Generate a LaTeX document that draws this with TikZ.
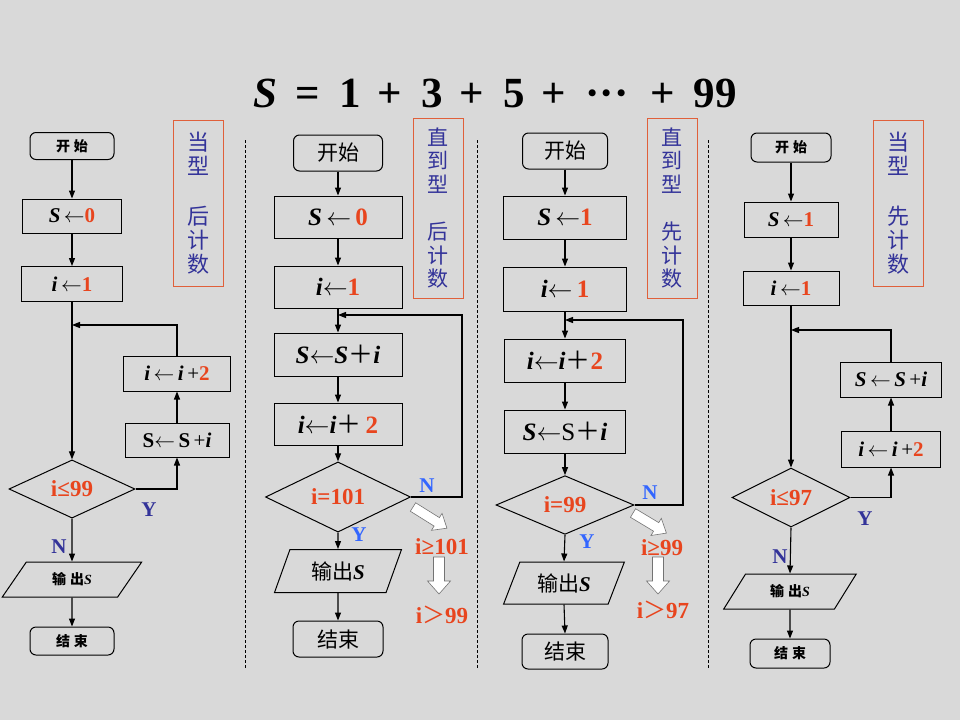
\documentclass[tikz,border=0pt]{standalone}
\usepackage{fontspec}
\setmainfont{Liberation Serif}
\newfontfamily\cjk{Noto Sans CJK SC}
\usetikzlibrary{arrows.meta, shapes.geometric}
\definecolor{flowbg}{HTML}{D9D9D9}
\definecolor{numred}{HTML}{E8451E}
\definecolor{tagblue}{HTML}{333399}
\definecolor{ynblue}{HTML}{3366FF}
\definecolor{tagframe}{HTML}{E0603A}
\newcommand\nr[1]{{\rmfamily\bfseries\color{numred}#1}}
\newcommand\bv[1]{{\rmfamily\bfseries\itshape #1}}
\newcommand\lar{$\leftarrow$}
\tikzset{
  box/.style={draw, line width=1pt, inner sep=0pt},
  term/.style={box, rounded corners=6pt},
  proc/.style={box},
  % parallelogram: bottom-left and bottom-right angles
  io/.style 2 args={box, trapezium, trapezium stretches=true,
                    trapezium left angle=#1, trapezium right angle=#2},
}

\begin{document}
\begin{tikzpicture}[
    x=1pt, y=-1pt,
    >={Triangle[length=8pt, width=6pt]},
    line width=1.1pt,
    cond/.style={box, diamond, text=numred, font=\bfseries\fontsize{23}{26}\selectfont},
    mathS/.style={font=\fontsize{21}{24}\selectfont},
    mathL/.style={font=\fontsize{25}{28}\selectfont},
    cjkS/.style={font=\cjk\bfseries\fontsize{14}{16}\selectfont},
    cjkL/.style={font=\cjk\fontsize{21}{24}\selectfont},
    tag/.style={draw=tagframe, line width=1pt, minimum width=50pt, inner sep=0pt,
                align=center, text=tagblue},
    yn/.style={font=\bfseries\fontsize{21}{24}\selectfont},
    cmp/.style={text=numred, font=\bfseries\fontsize{23}{26}\selectfont},
    hollow/.style={fill=white, draw=black!55, line width=0.6pt},
    sep/.style={line width=0.8pt, dash pattern=on 3pt off 2pt},
]
\useasboundingbox (0,0) rectangle (960,720);
\fill[flowbg] (0,0) rectangle (960,720);

\node[font=\bfseries\fontsize{43}{46}\selectfont] (ttl) at (495,93)
  {\bv{S}\hspace{19pt}=\hspace{19pt}1\hspace{17pt}+\hspace{19pt}3\hspace{17pt}+\hspace{19pt}5\hspace{17pt}+\hspace{19pt}···\hspace{22pt}+\hspace{19pt}99};

\draw[sep] (245,140) -- (245,668);
\draw[sep] (477,140) -- (477,668);
\draw[sep] (708,140) -- (708,668);

% ---- column 1: while loop, count after
\node[term, cjkS, minimum width=84pt, minimum height=27pt] (st1) at (72,146) {开\hspace{4pt}始};
\node[proc, mathS, minimum width=99pt, minimum height=34pt] (s1) at (72,216) {\bv{S}\,\lar\nr{0}};
\node[proc, mathS, minimum width=101pt, minimum height=35pt] (i1) at (72,284) {\bv{i}\,\lar\nr{1}};
\node[proc, mathS, minimum width=107pt, minimum height=35pt] (inc1) at (177,373.5) {\bv{i}\,\lar\,\bv{i}\,+\nr{2}};
\node[proc, mathS, minimum width=104pt, minimum height=34pt] (sum1) at (177,440) {\textbf{S}\lar\,\textbf{S}\,+\bv{i}};
\node[cond, minimum width=126pt, minimum height=57pt] (c1) at (72,489) {i≤99};
\node[io={52}{128}, cjkS, minimum width=140pt, minimum height=35pt] (o1) at (72,579.5) {输\hspace{4pt}出\bv{S}};
\node[term, cjkS, minimum width=84pt, minimum height=28pt] (e1) at (72,641) {结\hspace{4pt}束};
\node[tag, minimum height=166pt, font=\cjk\fontsize{22}{24}\selectfont] (t1) at (198.5,203)
  {当\\型\\[26pt]后\\计\\数};
\node[yn, text=tagblue] (y1) at (149,510) {Y};
\node[yn, text=tagblue] (n1) at (59,547) {N};
\coordinate (j1) at (72,325);

\draw[->] (st1) -- (s1);
\draw[->] (s1) -- (i1);
\draw[->] (i1) -- (c1);
\draw[->] (c1.east) -| (sum1.south);
\draw[->] (sum1) -- (inc1);
\draw[->] (inc1.north) |- (j1);
\draw[->] (c1.south) -- (o1.north);
\draw[->] (o1.south) -- (e1.north);

% ---- column 2: until loop, count after
\node[term, cjkL, minimum width=89pt, minimum height=36pt] (st2) at (338,153) {开始};
\node[proc, mathL, minimum width=128pt, minimum height=42pt] (s2) at (338,217) {\bv{S}\,\lar\,\nr{0}};
\node[proc, mathL, minimum width=128pt, minimum height=42pt] (i2) at (338,287) {\bv{i}\lar\nr{1}};
\node[proc, mathL, minimum width=128pt, minimum height=43pt] (sum2) at (338,354.5) {\bv{S}\lar\bv{S}{\cjk ＋}\bv{i}};
\node[proc, mathL, minimum width=128pt, minimum height=42pt] (inc2) at (338,424) {\bv{i}\lar\bv{i}{\cjk ＋}\,\nr{2}};
\node[cond, minimum width=145pt, minimum height=56pt] (c2) at (338,497) {i=101};
\node[io={66}{114}, cjkL, minimum width=127pt, minimum height=43pt] (o2) at (338,571) {输出\bv{S}};
\node[term, cjkL, minimum width=90pt, minimum height=36pt] (e2) at (338,639) {结束};
\node[tag, minimum height=180pt, font=\cjk\fontsize{21}{23.5}\selectfont] (t2) at (438,208)
  {直\\到\\型\\[24pt]后\\计\\数};
\node[yn, text=ynblue] (n2) at (427,486) {N};
\node[yn, text=ynblue] (y2) at (359,535) {Y};
\node[cmp] (g2) at (442,547) {i≥101};
\node[cmp] (h2) at (442,615) {i{\cjk\mdseries ＞}99};
\coordinate (j2) at (338,315);
\coordinate (k2) at (462,497);

\draw[->] (st2) -- (s2);
\draw[->] (s2) -- (i2);
\draw[->] (i2) -- (sum2);
\draw[->] (sum2) -- (inc2);
\draw[->] (inc2) -- (c2);
\draw[->] (c2.east) -- (k2) |- (j2);
\draw[->] (c2.south) -- (o2.north);
\draw[->] (o2.south) -- (e2.north);
\draw[hollow, shift={(413,507)}, rotate=-32]
  (0,-5) -- (28,-5) -- (28,-10) -- (40,0) -- (28,10) -- (28,5) -- (0,5) -- cycle;
\draw[hollow, shift={(439,557)}, rotate=-90]
  (0,-5.5) -- (24,-5.5) -- (24,-11.5) -- (37,0) -- (24,11.5) -- (24,5.5) -- (0,5.5) -- cycle;

% ---- column 3: until loop, count first
\node[term, cjkL, minimum width=85pt, minimum height=36pt] (st3) at (565,151) {开始};
\node[proc, mathL, minimum width=123pt, minimum height=43pt] (s3) at (565,217.5) {\bv{S}\,\lar\nr{1}};
\node[proc, mathL, minimum width=123pt, minimum height=44pt] (i3) at (565,289) {\bv{i}\lar\,\nr{1}};
\node[proc, mathL, minimum width=121pt, minimum height=43pt] (inc3) at (565,360.5) {\bv{i}\lar\bv{i}{\cjk ＋}\nr{2}};
\node[proc, mathL, minimum width=121pt, minimum height=43pt] (sum3) at (565,431.5) {\bv{S}\lar S{\cjk ＋}\bv{i}};
\node[cond, minimum width=138pt, minimum height=56pt] (c3) at (565,505) {i=99};
\node[io={63}{117}, cjkL, minimum width=121pt, minimum height=42pt] (o3) at (564,583) {输出\bv{S}};
\node[term, cjkL, minimum width=86pt, minimum height=35pt] (e3) at (565,651.5) {结束};
\node[tag, minimum height=180pt, font=\cjk\fontsize{21}{23.5}\selectfont] (t3) at (672,208)
  {直\\到\\型\\[24pt]先\\计\\数};
\node[yn, text=ynblue] (n3) at (650,493) {N};
\node[yn, text=ynblue] (y3) at (587,542) {Y};
\node[cmp] (g3) at (662,548) {i≥99};
\node[cmp] (h3) at (663,610) {i{\cjk\mdseries ＞}97};
\coordinate (j3) at (565,320);
\coordinate (k3) at (683,505);

\draw[->] (st3) -- (s3);
\draw[->] (s3) -- (i3);
\draw[->] (i3) -- (inc3);
\draw[->] (inc3) -- (sum3);
\draw[->] (sum3) -- (c3);
\draw[->] (c3.east) -- (k3) |- (j3);
\draw[->] (c3.south) -- (o3.north);
\draw[->] (o3.south) -- (e3.north);
\draw[hollow, shift={(633,513)}, rotate=-31]
  (0,-5) -- (27,-5) -- (27,-10) -- (39,0) -- (27,10) -- (27,5) -- (0,5) -- cycle;
\draw[hollow, shift={(658,557)}, rotate=-90]
  (0,-5.5) -- (24,-5.5) -- (24,-11.5) -- (37,0) -- (24,11.5) -- (24,5.5) -- (0,5.5) -- cycle;

% ---- column 4: while loop, count first
\node[term, cjkS, minimum width=80pt, minimum height=29pt] (st4) at (791,147.5) {开\hspace{4pt}始};
\node[proc, mathS, minimum width=94pt, minimum height=35pt] (s4) at (791,219.5) {\bv{S}\,\lar\nr{1}};
\node[proc, mathS, minimum width=96pt, minimum height=34pt] (i4) at (791,288) {\bv{i}\,\lar\nr{1}};
\node[proc, mathS, minimum width=101pt, minimum height=35pt] (sum4) at (891,379.5) {\bv{S}\,\lar\,\bv{S}\,+\bv{i}};
\node[proc, mathS, minimum width=99pt, minimum height=36pt] (inc4) at (891,449) {\bv{i}\,\lar\,\bv{i}\,+\nr{2}};
\node[cond, minimum width=118pt, minimum height=59pt] (c4) at (791,497.5) {i≤97};
\node[io={54}{126}, cjkS, minimum width=133pt, minimum height=35pt] (o4) at (790,591.5) {输\hspace{4pt}出\bv{S}};
\node[term, cjkS, minimum width=80pt, minimum height=29pt] (e4) at (790,653.5) {结\hspace{4pt}束};
\node[tag, minimum height=166pt, font=\cjk\fontsize{22}{24}\selectfont] (t4) at (898,203)
  {当\\型\\[26pt]先\\计\\数};
\node[yn, text=tagblue] (y4) at (865,519) {Y};
\node[yn, text=tagblue] (n4) at (780,557) {N};
\coordinate (j4) at (791,330);

\draw[->] (st4) -- (s4);
\draw[->] (s4) -- (i4);
\draw[->] (i4) -- (c4);
\draw[->] (c4.east) -| (inc4.south);
\draw[->] (inc4) -- (sum4);
\draw[->] (sum4.north) |- (j4);
\draw[->] (c4.south) -- (o4.north);
\draw[->] (o4.south) -- (e4.north);

\end{tikzpicture}
\end{document}
